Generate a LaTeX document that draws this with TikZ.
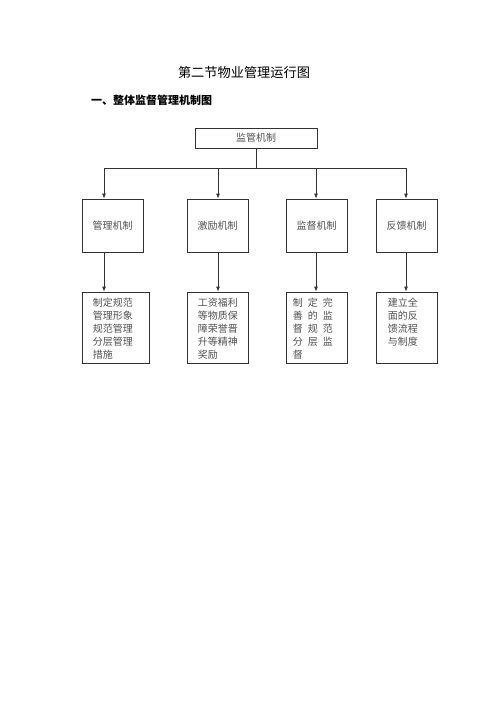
\documentclass[tikz,border=0pt]{standalone}
\usepackage{fontspec}
\setmainfont{Noto Sans CJK SC}
\usetikzlibrary{arrows.meta,positioning}
\definecolor{frame}{RGB}{50,50,50}
\definecolor{boxtext}{RGB}{80,80,80}
\newcommand{\gp}{\hspace{5pt}}

\begin{document}
\begin{tikzpicture}[x=1pt,y=-1pt,
    mech/.style={draw=frame, line width=0.8pt, text=boxtext, inner sep=0pt,
      minimum width=61pt, minimum height=53pt, font=\fontsize{10}{12}\selectfont},
    detail/.style={draw=frame, line width=0.8pt, inner sep=0pt,
      minimum width=61pt, minimum height=71pt},
    dtext/.style={anchor=north west, inner sep=0pt, align=left, text=boxtext,
      font=\fontsize{10}{13}\selectfont},
    link/.style={draw=frame, line width=0.8pt},
    arr/.style={link, -{Latex[length=5pt,width=4pt]}}]
  \useasboundingbox (0,0) rectangle (500,706);
  \node (title) at (244,72) {\fontsize{13.2}{15}\selectfont 第二节物业管理运行图};
  \node[anchor=west, inner sep=0pt] (sub) at (91,100) {\fontsize{11}{13}\selectfont\bfseries 一、整体监督管理机制图};
  % top level
  \node[mech, minimum width=122pt, minimum height=20pt] (top) at (256,138) {监管机制};
  \coordinate (b1) at (104,168);
  \coordinate (b2) at (218,168);
  \coordinate (b3) at (316,168);
  \coordinate (b4) at (406,168);
  % mechanisms
  \node[mech] (m1) at (112.5,225.5) {管理机制};
  \node[mech] (m2) at (217.5,225.5) {激励机制};
  \node[mech] (m3) at (316.5,225.5) {监督机制};
  \node[mech] (m4) at (406.5,225.5) {反馈机制};
  % details
  \node[detail, minimum width=67pt] (d1) at (115.5,327.5) {};
  \node[detail] (d2) at (217.5,327.5) {};
  \node[detail] (d3) at (316.5,327.5) {};
  \node[detail] (d4) at (406.5,327.5) {};
  \node[dtext] (t1) at ([xshift=11pt,yshift=-6pt]d1.north west) {制定规范\\管理形象\\规范管理\\分层管理\\措施};
  \node[dtext] (t2) at ([xshift=11pt,yshift=-6pt]d2.north west) {工资福利\\等物质保\\障荣誉晋\\升等精神\\奖励};
  \node[dtext] (t3) at ([xshift=7pt,yshift=-6pt]d3.north west) {制\gp 定\gp 完\\善\gp 的\gp 监\\督\gp 规\gp 范\\分\gp 层\gp 监\\督};
  \node[dtext] (t4) at ([xshift=12pt,yshift=-6pt]d4.north west) {建立全\\面的反\\馈流程\\与制度};
  % connectors
  \draw[link] (top.south) -- (top.south |- b1);
  \draw[link] (b1) -- (b4);
  \draw[arr] (b1) -- (b1 |- m1.north);
  \draw[arr] (b2) -- (b2 |- m2.north);
  \draw[arr] (b3) -- (b3 |- m3.north);
  \draw[arr] (b4) -- (b4 |- m4.north);
  \draw[arr] (m1.south -| b1) -- (d1.north -| b1);
  \draw[arr] (m2.south -| b2) -- (d2.north -| b2);
  \draw[arr] (m3.south -| b3) -- (d3.north -| b3);
  \draw[arr] (m4.south -| b4) -- (d4.north -| b4);
\end{tikzpicture}
\end{document}
